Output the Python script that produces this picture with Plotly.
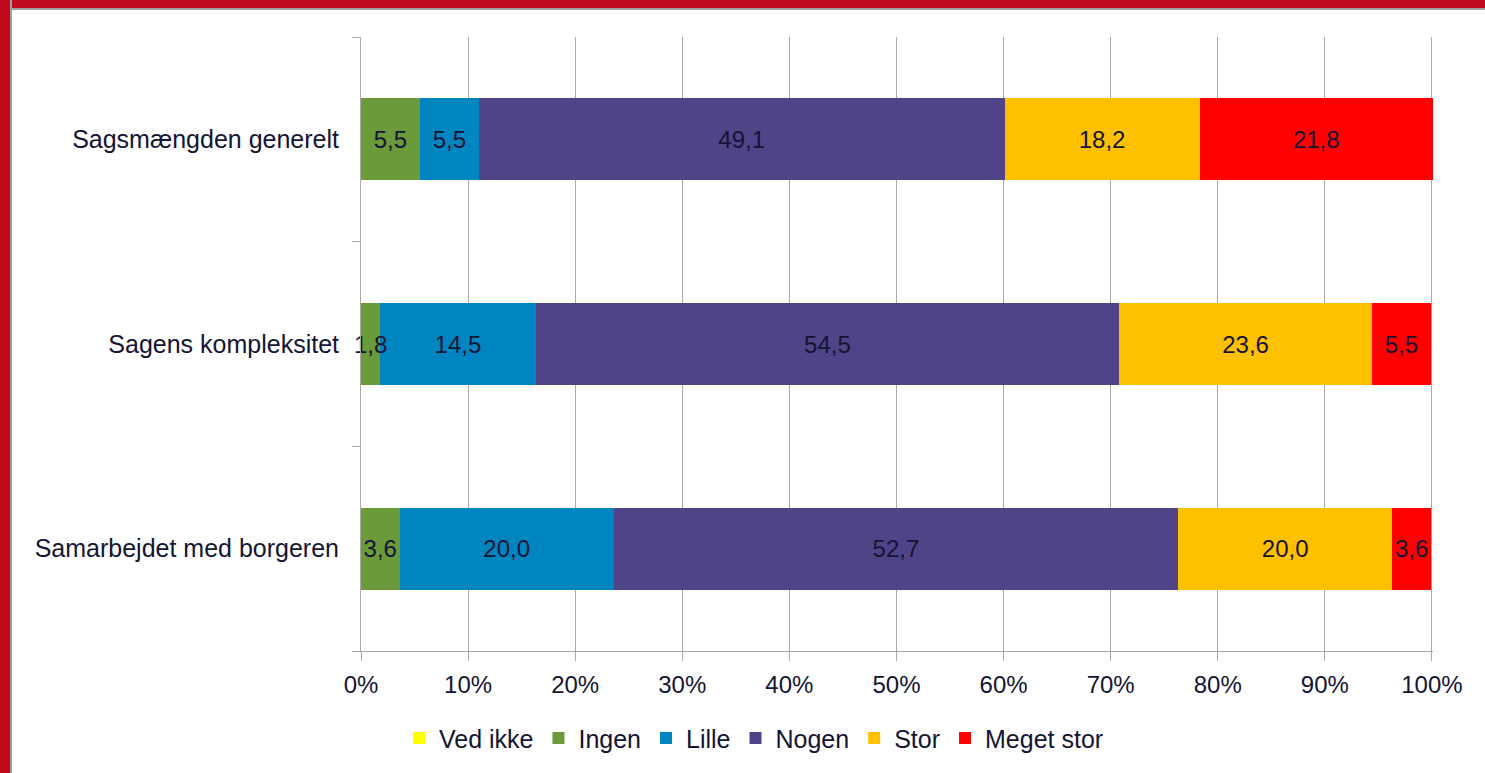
import plotly.graph_objects as go

categories = ["Sagsmængden generelt", "Sagens kompleksitet", "Samarbejdet med borgeren"]
series_names = ["Ved ikke", "Ingen", "Lille", "Nogen", "Stor", "Meget stor"]
ved_ikke = [0.0, 0.0, 0.0]
ingen = [5.5, 1.8, 3.6]
lille = [5.5, 14.5, 20.0]
nogen = [49.1, 54.5, 52.7]
stor = [18.2, 23.6, 20.0]
meget_stor = [21.8, 5.5, 3.6]
x_ticks = [0, 10, 20, 30, 40, 50, 60, 70, 80, 90, 100]
x_tick_labels = ["0%", "10%", "20%", "30%", "40%", "50%", "60%", "70%", "80%", "90%", "100%"]

series_values = [ved_ikke, ingen, lille, nogen, stor, meget_stor]
colors = ["#FFFF00", "#6A9A3A", "#0085C0", "#4F4488", "#FFC000", "#FF0000"]

FONT = "Liberation Sans, Arial, sans-serif"
TXT = "#141434"

fig = go.Figure()
# coloured bars (main subplot)
for name, vals, col in zip(series_names, series_values, colors):
    fig.add_trace(go.Bar(
        name=name, y=categories, x=vals, orientation="h",
        marker=dict(color=col, line=dict(width=0)),
        hoverinfo="x+y+name",
    ))
# data labels on an overlay subplot so no bar covers them
for name, vals in zip(series_names, series_values):
    labels = [("%.1f" % v).replace(".", ",") if v > 0 else "" for v in vals]
    fig.add_trace(go.Bar(
        name=name, y=categories, x=vals, orientation="h",
        xaxis="x2", yaxis="y2", showlegend=False, hoverinfo="skip",
        marker=dict(color="rgba(0,0,0,0)", line=dict(width=0)),
        text=labels, textposition="inside", insidetextanchor="middle",
        constraintext="none", textangle=0, cliponaxis=False,
        textfont=dict(family=FONT, size=24, color=TXT),
    ))

XR = [0, 100.1]
YR = [-0.5, len(categories) - 0.5]
cat_order = categories[::-1]
fig.update_layout(
    barmode="stack", bargap=0.6,
    width=1485, height=773,
    margin=dict(l=361, r=52, t=37, b=122),
    paper_bgcolor="white", plot_bgcolor="white",
    font=dict(family=FONT, size=25, color=TXT),
    xaxis=dict(
        range=XR, tickvals=x_ticks, ticktext=x_tick_labels,
        showgrid=True, gridcolor="#A8A8A8", gridwidth=1,
        showline=True, linecolor="#A8A8A8", linewidth=1,
        ticks="outside", ticklen=9, tickcolor="#A8A8A8",
        zeroline=False, ticklabelstandoff=3,
        tickfont=dict(size=24, color=TXT),
    ),
    yaxis=dict(
        type="category", categoryorder="array", categoryarray=cat_order, range=YR,
        showline=True, linecolor="#A8A8A8", linewidth=1,
        ticks="outside", tickson="boundaries", ticklen=8, tickcolor="#A8A8A8",
        showgrid=False, ticklabelstandoff=16,
        tickfont=dict(size=25, color=TXT),
    ),
    xaxis2=dict(overlaying="x", range=XR, visible=False, anchor="y2"),
    yaxis2=dict(overlaying="y", type="category", categoryorder="array",
                categoryarray=cat_order, range=YR, visible=False, anchor="x2"),
    legend=dict(
        orientation="h", x=0.0354, xanchor="left", y=-0.142, yanchor="middle",
        font=dict(size=25, color=TXT), traceorder="normal",
        itemclick=False, bgcolor="rgba(0,0,0,0)",
    ),
    shapes=[
        # red frame left and top
        dict(type="rect", xref="paper", yref="paper", xsizemode="pixel", ysizemode="pixel",
             xanchor=0, yanchor=0, x0=-362, x1=-351, y0=-200, y1=800,
             fillcolor="#BE0A1C", line=dict(width=0), layer="above"),
        dict(type="rect", xref="paper", yref="paper", xsizemode="pixel", ysizemode="pixel",
             xanchor=0, yanchor=1, x0=-362, x1=1200, y0=29, y1=60,
             fillcolor="#BE0A1C", line=dict(width=0), layer="above"),
        # grey inner edge
        dict(type="line", xref="paper", yref="paper", xsizemode="pixel", ysizemode="pixel",
             xanchor=0, yanchor=0, x0=-350, x1=-350, y0=-200, y1=700,
             line=dict(color="#A0A0A0", width=2), layer="above"),
        dict(type="line", xref="paper", yref="paper", xsizemode="pixel", ysizemode="pixel",
             xanchor=0, yanchor=1, x0=-351, x1=1200, y0=28, y1=28,
             line=dict(color="#A0A0A0", width=2), layer="above"),
    ],
)

fig.write_html("out.html", config={"displayModeBar": False},
               post_script="document.body.style.margin='0';")
